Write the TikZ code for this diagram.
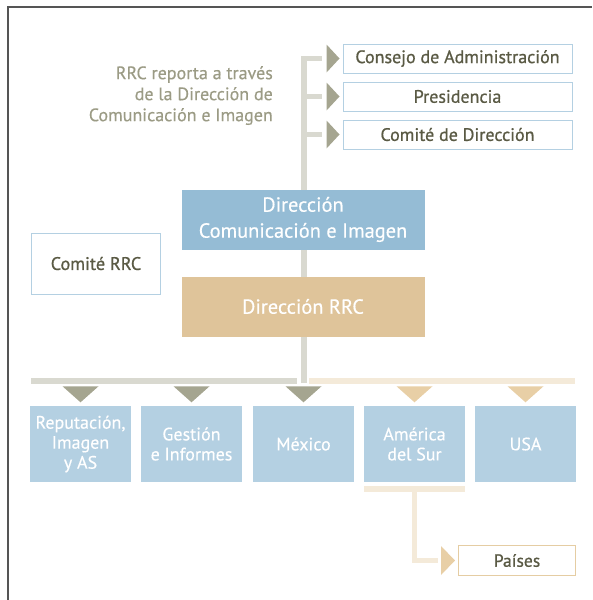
\documentclass[tikz,border=0pt]{standalone}
\usepackage{fontspec}
\setmainfont{PT Sans}
\newfontfamily\medfont[FakeBold=0.8]{PT Sans}
\newfontfamily\lightmed[FakeBold=0.4]{PT Sans}
\usetikzlibrary{calc}
\definecolor{gline}{HTML}{D9D9D0}
\definecolor{oliv}{HTML}{A5A590}
\definecolor{darkt}{HTML}{5A5A44}
\definecolor{annot}{HTML}{9B9B85}
\definecolor{blued}{HTML}{95BCD5}
\definecolor{bluel}{HTML}{B4D0E2}
\definecolor{tanc}{HTML}{DFC49A}
\definecolor{tanl}{HTML}{F4EAD9}
\definecolor{tant}{HTML}{E8CFA6}
\definecolor{tanb}{HTML}{E5CDA3}
\definecolor{framec}{HTML}{555555}
\begin{document}
\begin{tikzpicture}[x=1pt,y=-1pt,
  topbox/.style={draw=bluel, line width=1pt, fill=white, text=darkt, inner sep=0pt,
    minimum width=229pt, minimum height=29pt, font=\medfont\fontsize{18}{21}\selectfont},
  bigbox/.style={inner sep=0pt, text=white, minimum width=243pt, minimum height=60pt,
    align=center, font=\lightmed\fontsize{20.4}{26}\selectfont},
  botbox/.style={fill=bluel, inner sep=0pt, text=white, minimum width=101pt, minimum height=76pt,
    align=center, font=\lightmed\fontsize{18}{20}\selectfont},
  gbar/.style={draw=gline, line width=5.5pt},
  tbar/.style={draw=tanl, line width=5.5pt}]
\useasboundingbox (0,0) rectangle (592,600);
\draw[framec, line width=1.5pt] (8,600) -- (8,7) -- (592,7);

% top boxes
\node[topbox] (cons) at (457.5,58.5) {Consejo de Administración};
\node[topbox] (pres) at (457.5,96.5) {Presidencia};
\node[topbox] (comd) at (457.5,134.5) {Comité de Dirección};

\node[anchor=north east, align=right, text=annot, inner sep=0pt,
  font=\lightmed\fontsize{18}{21}\selectfont] (anno) at (273,66)
  {RRC reporta a través\\de la Dirección de\\Comunicación e Imagen};

% spine
\coordinate (vbot) at (304,383);
\coordinate (b1) at ($(cons.west)+(-21,0)$);
\coordinate (b2) at ($(pres.west)+(-21,0)$);
\coordinate (b3) at ($(comd.west)+(-21,0)$);
\draw[gbar] (vbot) |- (b1);
\draw[gbar] (vbot |- b2) -- (b2);
\draw[gbar] (vbot |- b3) -- (b3);
\foreach \n in {cons,pres,comd}{
  \fill[oliv] ($(\n.west)+(-3,0)$) -- ++(-13,-14) -- ++(0,28) -- cycle;
}

% middle boxes
\node[bigbox, fill=blued] (dci) at (303,219.5) {Dirección\\Comunicación e Imagen};
\node[bigbox, fill=tanc] (drrc) at (303,306.5) {Dirección RRC};
\node[draw=bluel, line width=1pt, fill=white, text=darkt, inner sep=0pt,
  minimum width=129pt, minimum height=61pt, font=\medfont\fontsize{18.2}{21}\selectfont]
  (crrc) at (96,263.5) {Comité RRC};

% bottom row
\node[botbox] (rep) at (80.5,444) {Reputación,\\Imagen\\y AS};
\node[botbox] (ges) at (191.5,444) {Gestión\\e Informes};
\node[botbox] (mex) at (303.5,444) {México};
\node[botbox] (ams) at (414.5,444) {América\\del Sur};
\node[botbox] (usa) at (525.5,444) {USA};

\coordinate (gl) at (31,381);
\coordinate (gr) at (297,381);
\coordinate (tl) at (309,381);
\coordinate (tr) at (575,381);
\draw[gbar] (gl) -- (gr);
\draw[tbar] (tl) -- (tr);
\foreach \n in {rep,ges,mex}{
  \fill[oliv] ($(\n.north)+(0,-3.5)$) -- ++(-18,-16) -- ++(36,0) -- cycle;
}
\foreach \n in {ams,usa}{
  \fill[tant] ($(\n.north)+(0,-3.5)$) -- ++(-18,-16) -- ++(36,0) -- cycle;
}

% Paises
\node[draw=tanb, line width=1pt, fill=white, text=darkt, inner sep=0pt,
  minimum width=117pt, minimum height=30pt, font=\medfont\fontsize{17.6}{19}\selectfont]
  (pai) at (517,560.5) {Países};
\draw[tbar] ($(ams.south west)+(0,7)$) -- ($(ams.south east)+(0,7)$);
\coordinate (pe) at ($(pai.west)+(-20,0)$);
\draw[tbar] ($(ams.south)+(0,7)$) |- (pe);
\fill[tant] ($(pai.west)+(-3,0)$) -- ++(-14,-14.5) -- ++(0,29) -- cycle;
\end{tikzpicture}
\end{document}
